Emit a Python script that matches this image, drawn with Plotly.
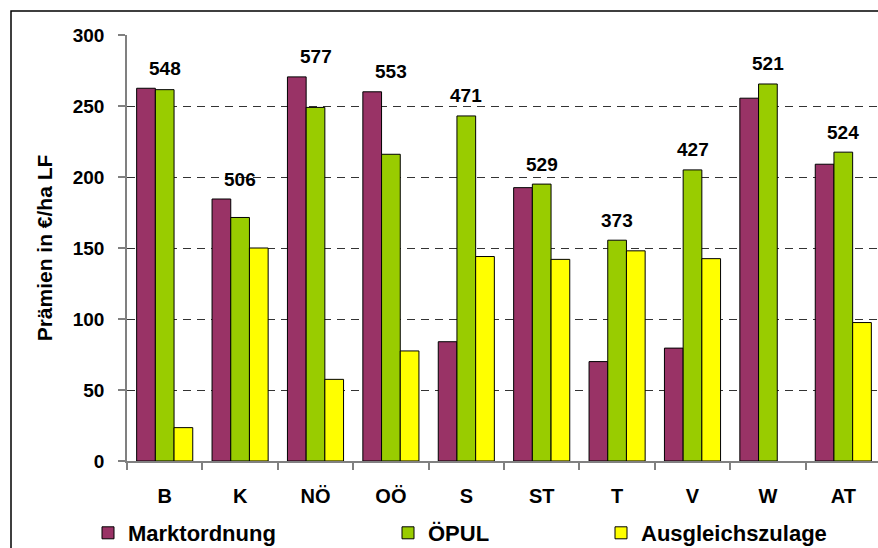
import plotly.graph_objects as go

categories = ["B", "K", "NÖ", "OÖ", "S", "ST", "T", "V", "W", "AT"]
marktordnung = [262.5, 184.5, 270.5, 260, 84, 192.5, 70, 79.5, 255.5, 209]
oepul = [261.5, 171.5, 249, 216, 243, 195, 155.5, 205, 265.5, 217.5]
ausgleichszulage = [23.5, 150, 57.5, 77.5, 144, 142, 148, 142.5, None, 97.5]
totals = [548, 506, 577, 553, 471, 529, 373, 427, 521, 524]
y_ticks = [0, 50, 100, 150, 200, 250, 300]

FONT = "Liberation Sans, Arial, sans-serif"
W, H = 878, 548
L, R, T, B = 127, 0, 35, 87
pw, ph = W - L - R, H - T - B

def px_x(p):
    return (p - L) / pw

def px_y(p):
    return 1 - (p - T) / ph

fig = go.Figure()
series = [
    ("Marktordnung", marktordnung, "#993366", "legend"),
    ("ÖPUL", oepul, "#99CC00", "legend2"),
    ("Ausgleichszulage", ausgleichszulage, "#FFFF00", "legend3"),
]
for name, vals, col, lg in series:
    fig.add_trace(go.Bar(
        x=categories, y=vals, name=name, legend=lg, showlegend=True,
        marker=dict(color=col, line=dict(color="black", width=1)),
    ))

for cat, a, b, c, tot in zip(categories, marktordnung, oepul, ausgleichszulage, totals):
    top = max(v for v in (a, b, c) if v is not None)
    fig.add_annotation(
        x=cat, y=top, text=str(tot), showarrow=False,
        yanchor="middle", yshift=20,
        font=dict(family=FONT, size=19, color="black", weight="bold"),
    )

fig.add_shape(type="rect", xref="paper", yref="paper",
              x0=px_x(11), x1=px_x(W + 20), y0=px_y(H + 20), y1=px_y(11),
              line=dict(color="black", width=1.5), layer="above")

legend_common = dict(
    orientation="h", yanchor="middle", xanchor="left", y=px_y(533),
    font=dict(family=FONT, size=22, color="black", weight="bold"),
    bgcolor="rgba(0,0,0,0)", borderwidth=0,
)
fig.update_layout(
    width=W, height=H,
    showlegend=True,
    margin=dict(l=L, r=R, t=T, b=B, autoexpand=False),
    paper_bgcolor="white", plot_bgcolor="white",
    barmode="group", bargap=0.256, bargroupgap=0,
    font=dict(family=FONT, size=19, color="black"),
    legend=dict(x=px_x(88), visible=True, **legend_common),
    legend2=dict(x=px_x(388), visible=True, **legend_common),
    legend3=dict(x=px_x(601), visible=True, **legend_common),
    xaxis=dict(
        type="category", range=[-0.5, 9.5 - 3 / 75.3],
        showline=True, linecolor="#808080", linewidth=1.5,
        ticks="outside", tickson="boundaries", ticklen=7, tickcolor="#808080",
        tickwidth=1.5, showgrid=False, ticklabelstandoff=16,
        tickfont=dict(family=FONT, size=20, color="black", weight="bold"),
    ),
    yaxis=dict(
        range=[0, 300], tickvals=y_ticks,
        showline=True, linecolor="#808080", linewidth=1.5,
        ticks="outside", ticklen=7, tickcolor="#808080", tickwidth=1.5,
        ticklabelstandoff=10,
        showgrid=True, gridcolor="#333333", gridwidth=1, griddash="8px,6px",
        zeroline=False,
        tickfont=dict(family=FONT, size=19, color="black", weight="bold"),
        title=dict(text="Prämien in €/ha LF", standoff=14,
                   font=dict(family=FONT, size=21, color="black", weight="bold")),
    ),
)

fig.write_html(
    "out.html",
    config={"displayModeBar": False},
    post_script="document.body.style.margin='0';document.body.style.overflow='hidden';",
)
